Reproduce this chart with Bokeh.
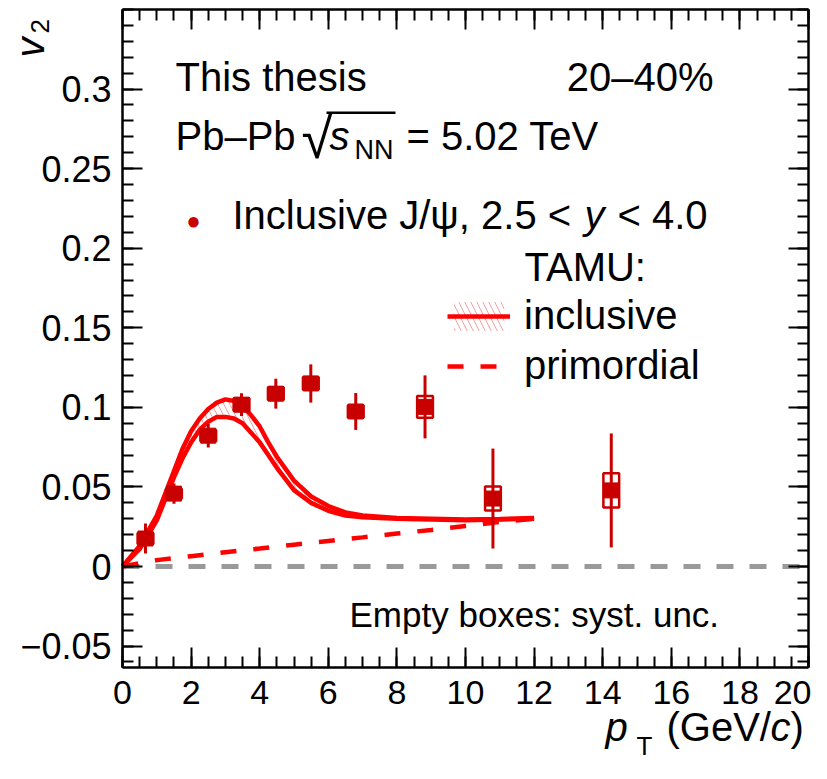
from bokeh.plotting import figure
from bokeh.models import (Range1d, LinearAxis, FixedTicker, CustomJSTickFormatter, Label,
                          Legend, LegendItem, BoxAnnotation)
from bokeh.embed import file_html
from bokeh.resources import INLINE

# ---------------- data ----------------
pt = [0.67, 1.5, 2.5, 3.47, 4.47, 5.49, 6.8, 8.82, 10.8, 14.25]
v2 = [0.0176, 0.0458, 0.0822, 0.1017, 0.1086, 0.1150, 0.0974, 0.1003, 0.0427, 0.0478]
stat = [0.0094, 0.0063, 0.0075, 0.0072, 0.0094, 0.0120, 0.0116, 0.0198, 0.0314, 0.0358]
syst = [0.0035, 0.0030, 0.0035, 0.0040, 0.0040, 0.0040, 0.0040, 0.0068, 0.0075, 0.0108]

tamu_pt = [0, 0.5, 1, 1.5, 1.75, 2, 2.25, 2.5, 2.75, 3, 3.25, 3.5, 3.75, 4, 4.25, 4.5,
           5, 5.5, 6, 6.5, 7, 8, 9, 10, 11, 12]
tamu_hi = [0, 0.013, 0.032, 0.060, 0.074, 0.085, 0.093, 0.099, 0.103, 0.105, 0.104, 0.101,
           0.095, 0.088, 0.078, 0.069, 0.054, 0.044, 0.038, 0.034, 0.032, 0.0305, 0.030,
           0.0295, 0.0298, 0.0305]
tamu_lo = [0, 0.011, 0.029, 0.056, 0.068, 0.078, 0.086, 0.091, 0.094, 0.094, 0.093, 0.090,
           0.084, 0.078, 0.070, 0.062, 0.048, 0.040, 0.035, 0.032, 0.031, 0.030, 0.0295,
           0.029, 0.0295, 0.030]

prim_pt = [0, 1, 2, 3, 4, 5, 6, 7, 8, 9, 10, 11, 12]
prim_v2 = [0, 0.004, 0.0065, 0.009, 0.0113, 0.0137, 0.016, 0.0183, 0.0207, 0.023, 0.0255,
           0.028, 0.030]

x_ticks = [0, 2, 4, 6, 8, 10, 12, 14, 16, 18, 20]
x_tick_labels = ["0", "2", "4", "6", "8", "10", "12", "14", "16", "18", "20"]
y_ticks = [-0.05, 0, 0.05, 0.1, 0.15, 0.2, 0.25, 0.3]
y_tick_labels = ["\u22120.05", "0", "0.05", "0.1", "0.15", "0.2", "0.25", "0.3"]
x_lim = (0, 20)
y_lim = (-0.0635, 0.35)

# ---------------- geometry / style ----------------
FONT = "Liberation Sans"
DARK = "#c80000"
RED = "#ff0000"
W, H = 811, 763
FL, FR, FT = 122, 808, 9          # plot box in canvas pixels
y0_px = 566                       # canvas row of v2 = 0
xs = (FR - FL) / (x_lim[1] - x_lim[0])
ys = (y0_px - FT) / y_lim[1]

p = figure(width=W, height=H,
           x_range=Range1d(x_lim[0] - FL / xs, x_lim[0] + (W - FL) / xs),
           y_range=Range1d(-(H - y0_px) / ys, y_lim[1] + FT / ys),
           x_axis_location=None, y_axis_location=None,
           output_backend="svg", toolbar_location=None,
           min_border=0, min_border_left=0, min_border_right=0,
           min_border_top=0, min_border_bottom=0)
p.xgrid.visible = False
p.ygrid.visible = False
p.outline_line_color = None
p.background_fill_color = "white"
p.border_fill_color = "white"

x_minor = [i * 0.5 for i in range(41)]
y_minor = [round(-0.06 + i * 0.01, 3) for i in range(42)]
xt = FixedTicker(ticks=x_ticks, minor_ticks=x_minor)
yt = FixedTicker(ticks=y_ticks, minor_ticks=y_minor)

fmt_code = "const i = vals.findIndex(v => Math.abs(v - tick) < 1e-9); return i >= 0 ? labels[i] : '';"
xfmt = CustomJSTickFormatter(args=dict(vals=x_ticks, labels=x_tick_labels), code=fmt_code)
yfmt = CustomJSTickFormatter(args=dict(vals=y_ticks, labels=y_tick_labels), code=fmt_code)


def make_axis(ticker, fmt, loc, bounds, size, standoff):
    ax = LinearAxis(ticker=ticker, formatter=fmt, fixed_location=loc, bounds=bounds)
    ax.axis_line_color = "black"
    ax.axis_line_width = 2.5
    ax.major_tick_in = 20
    ax.major_tick_out = 0
    ax.minor_tick_in = 11
    ax.minor_tick_out = 0
    ax.major_tick_line_width = 2
    ax.minor_tick_line_width = 2
    ax.major_tick_line_color = "black"
    ax.minor_tick_line_color = "black"
    ax.major_label_text_font = FONT
    ax.major_label_text_font_size = size
    ax.major_label_text_color = "black"
    ax.major_label_standoff = standoff
    return ax


blank = CustomJSTickFormatter(code="return '';")
p.add_layout(make_axis(xt, xfmt, y_lim[0], x_lim, "34px", 13), "below")
p.add_layout(make_axis(yt, yfmt, x_lim[0], y_lim, "36px", 11), "left")
p.add_layout(make_axis(xt, blank, y_lim[1], x_lim, "10px", 0), "above")
p.add_layout(make_axis(yt, blank, x_lim[1], y_lim, "10px", 0), "right")

# ---------------- glyphs ----------------
p.line([x_lim[0], x_lim[1]], [0, 0], line_color="#999999", line_width=5, line_dash="17 16")

prim = p.line(prim_pt, prim_v2, line_color=RED, line_width=4.5, line_dash="16 17")
band = p.varea(x=tamu_pt, y1=tamu_lo, y2=tamu_hi, fill_color=None, hatch_pattern="\\",
               hatch_color="#f4a0a0", hatch_scale=12, hatch_weight=1)
hi_line = p.line(tamu_pt, tamu_hi, line_color=RED, line_width=4.5)
lo_line = p.line(tamu_pt, tamu_lo, line_color=RED, line_width=4.5)

err_lo = [v - e for v, e in zip(v2, stat)]
err_hi = [v + e for v, e in zip(v2, stat)]
p.segment(x0=pt, y0=err_lo, x1=pt, y1=err_hi, line_color=DARK, line_width=3)
p.scatter(pt, v2, marker="square", size=15, fill_color=DARK, line_color=DARK)
p.rect(x=pt, y=v2, width=0.46, height=[2 * s for s in syst], fill_color=None,
       line_color=DARK, line_width=2.5)

# ---------------- legend (TAMU) ----------------
leg = Legend(items=[LegendItem(label="inclusive", renderers=[band, hi_line]),
                    LegendItem(label="primordial", renderers=[prim])],
             location=(447, H - 388), orientation="vertical", glyph_width=63,
             glyph_height=36, label_standoff=14, padding=0, margin=0, spacing=5,
             border_line_color=None, background_fill_alpha=0, label_text_font=FONT,
             label_text_font_size="40px", label_text_color="black")
p.add_layout(leg)

# ---------------- texts ----------------
BOFF = 0.39  # baseline offset of Bokeh labels, in em


def lab(text, ix, base, size=40, style="normal", align="left", color="black"):
    p.add_layout(Label(x=ix, y=H - (base - BOFF * size), x_units="screen", y_units="screen",
                       text=text, text_font=FONT, text_font_size=f"{size}px",
                       text_font_style=style, text_align=align, text_baseline="alphabetic",
                       text_color=color))


def vlab(text, start_y, base_x, size=40, style="normal"):
    p.add_layout(Label(x=base_x - BOFF * size, y=H - start_y, x_units="screen",
                       y_units="screen", text=text, text_font=FONT,
                       text_font_size=f"{size}px", text_font_style=style, text_align="left",
                       text_baseline="alphabetic", text_color="black", angle=90,
                       angle_units="deg"))


lab("This thesis", 175, 92)
lab("20\u201340%", 713, 92, align="right")
lab("Pb\u2013Pb", 175, 151)
lab("\u221a", 301, 160, size=56)
p.add_layout(BoxAnnotation(left=326, right=395, top=H - 111, bottom=H - 113.5,
                           left_units="screen", right_units="screen", top_units="screen",
                           bottom_units="screen", fill_color="black", fill_alpha=1,
                           line_color=None))
lab("s", 329, 151, style="italic")
lab("NN", 354, 160, size=27)
lab("= 5.02 TeV", 406, 151)

p.add_layout(Label(x=193, y=H - 220, x_units="screen", y_units="screen", text="\u25cf",
                   text_font=FONT, text_font_size="24px", text_align="center",
                   text_baseline="middle", text_color=DARK))
lab("Inclusive J/\u03c8, 2.5 <", 232, 230)
lab("y", 584, 230, style="italic")
lab("< 4.0", 707, 230, align="right")

lab("TAMU:", 524, 282)
lab("Empty boxes: syst. unc.", 349, 628, size=35)

# axis titles
vlab("v", 57, 45, size=40, style="italic")
vlab("2", 33, 50, size=26)
lab("p", 605, 742, size=40, style="italic")
lab("T", 636, 756, size=26)
lab("(GeV/", 666, 742, size=40)
lab("c", 770, 742, size=40, style="italic")
lab(")", 790, 742, size=40)

open("out.html", "w").write(file_html(p, INLINE))
